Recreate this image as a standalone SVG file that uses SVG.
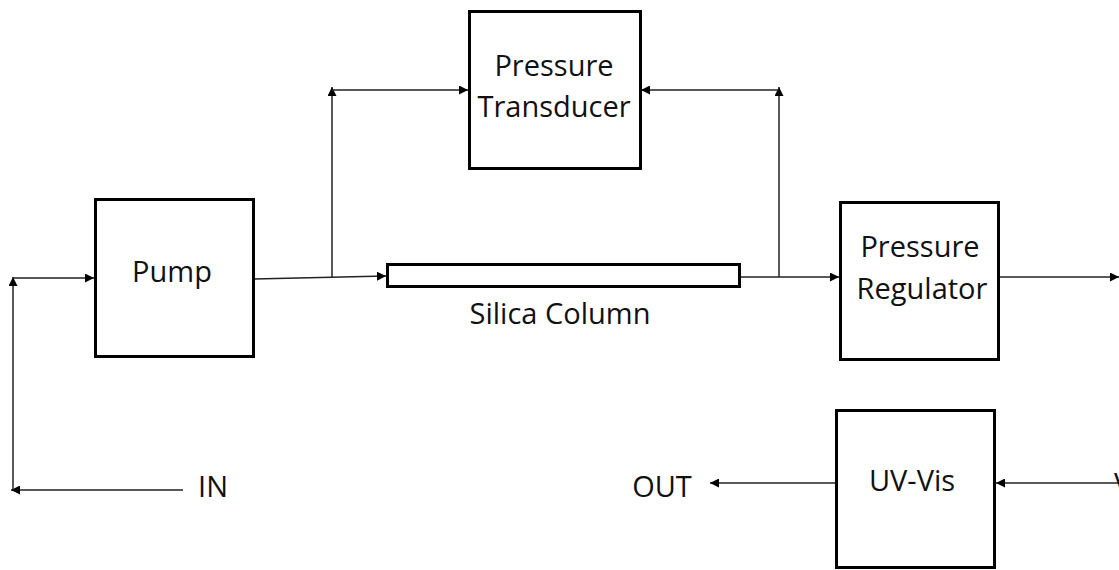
<svg xmlns="http://www.w3.org/2000/svg" width="1119" height="570" viewBox="0 0 1119 570">
<defs>
<style>
.box{fill:#fff;stroke:#000;stroke-width:3}
.t{font-family:"Open Sans","Liberation Sans",sans-serif;font-size:29px;fill:#111;text-anchor:middle}
.c{fill:none;stroke:#222;stroke-width:1.5}
</style>
<marker id="a" viewBox="0 0 10 10" refX="10" refY="5" markerWidth="9" markerHeight="9" markerUnits="userSpaceOnUse" orient="auto">
<path d="M0,0 L10,5 L0,10 z" fill="#000"/>
</marker>
</defs>
<rect width="1119" height="570" fill="#fff"/>
<g id="connectors">
<line class="c" x1="183" y1="490" x2="11" y2="490" marker-end="url(#a)"/>
<line class="c" x1="13" y1="490" x2="13" y2="277" marker-end="url(#a)"/>
<line class="c" x1="13" y1="278" x2="94" y2="278" marker-end="url(#a)"/>
<line class="c" x1="254" y1="279" x2="386" y2="276" marker-end="url(#a)"/>
<line class="c" x1="332" y1="277" x2="332" y2="87" marker-end="url(#a)"/>
<line class="c" x1="332" y1="90" x2="468" y2="90" marker-end="url(#a)"/>
<line class="c" x1="741" y1="277" x2="839" y2="277" marker-end="url(#a)"/>
<line class="c" x1="779" y1="277" x2="779" y2="87" marker-end="url(#a)"/>
<line class="c" x1="779" y1="90" x2="641" y2="90" marker-end="url(#a)"/>
<line class="c" x1="999" y1="277" x2="1119" y2="277" marker-end="url(#a)"/>
<line class="c" x1="1119" y1="483" x2="996" y2="483" marker-end="url(#a)"/>
<line class="c" x1="835" y1="483" x2="710" y2="483" marker-end="url(#a)"/>
</g>
<g id="pump">
<rect class="box" x="95.5" y="199.5" width="158" height="157"/>
<text class="t" x="172" y="282">Pump</text>
</g>
<g id="transducer">
<rect class="box" x="469.5" y="11.5" width="171" height="157"/>
<text class="t" x="554" y="76">Pressure</text>
<text class="t" x="554" y="117">Transducer</text>
</g>
<g id="column">
<rect class="box" x="387.5" y="264.5" width="352" height="22"/>
<text class="t" x="560" y="324">Silica Column</text>
</g>
<g id="regulator">
<rect class="box" x="840.5" y="202.5" width="158" height="157"/>
<text class="t" x="920" y="257">Pressure</text>
<text class="t" x="922" y="299">Regulator</text>
</g>
<g id="uvvis">
<rect class="box" x="836.5" y="410.5" width="158" height="157"/>
<text class="t" x="912" y="491">UV-Vis</text>
</g>
<g id="labels">
<text class="t" x="213" y="497">IN</text>
<text class="t" x="662" y="497">OUT</text>
<text class="t" x="1114" y="494" style="text-anchor:start">V</text>
</g>
</svg>
